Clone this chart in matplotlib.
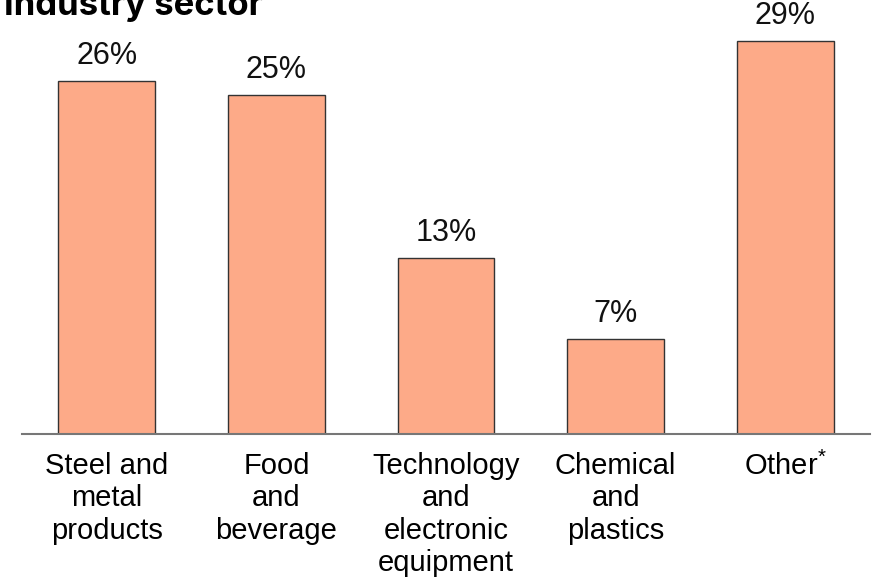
import numpy as np
import matplotlib
matplotlib.use("Agg")
import matplotlib.pyplot as plt

# Share of companies by industry sector
sectors = ["Steel and\nmetal\nproducts", "Food\nand\nbeverage",
           "Technology\nand\nelectronic\nequipment", "Chemical\nand\nplastics",
           "Other$^{*}$"]
shares = [26, 25, 13, 7, 29]

plt.rcParams["font.family"] = ["Liberation Sans", "DejaVu Sans"]
plt.rcParams["mathtext.fontset"] = "custom"
plt.rcParams["mathtext.rm"] = "Liberation Sans"

fig = plt.figure(figsize=(8.83, 5.83), dpi=100)
ax = fig.add_axes([22 / 883, 1 - 434 / 583, 848 / 883, 434 / 583])

x = np.arange(len(sectors))
bars = ax.bar(x, shares, width=0.57, color="#FDAA88", edgecolor="#333333", linewidth=1.0)

for xi, v in zip(x, shares):
    ax.text(xi, v + 0.75, f"{v}%", ha="center", va="bottom", fontsize=22, color="#111111")

ax.set_xlim(-0.5, 4.5)
ax.set_ylim(0, 32)
ax.set_xticks(x)
ax.set_xticklabels(sectors, fontsize=21, linespacing=1.2, multialignment="center")
ax.tick_params(axis="x", length=0, pad=13)
ax.set_yticks([])
for side in ["top", "right", "left"]:
    ax.spines[side].set_visible(False)
ax.spines["bottom"].set_color("#777777")
ax.spines["bottom"].set_linewidth(1.5)

fig.text(4 / 883, 1 - 15 / 583, "Industry sector", fontsize=25, fontweight="bold",
         family=["Inter", "DejaVu Sans"], ha="left", va="baseline")

fig.savefig("out.png", dpi=100)
